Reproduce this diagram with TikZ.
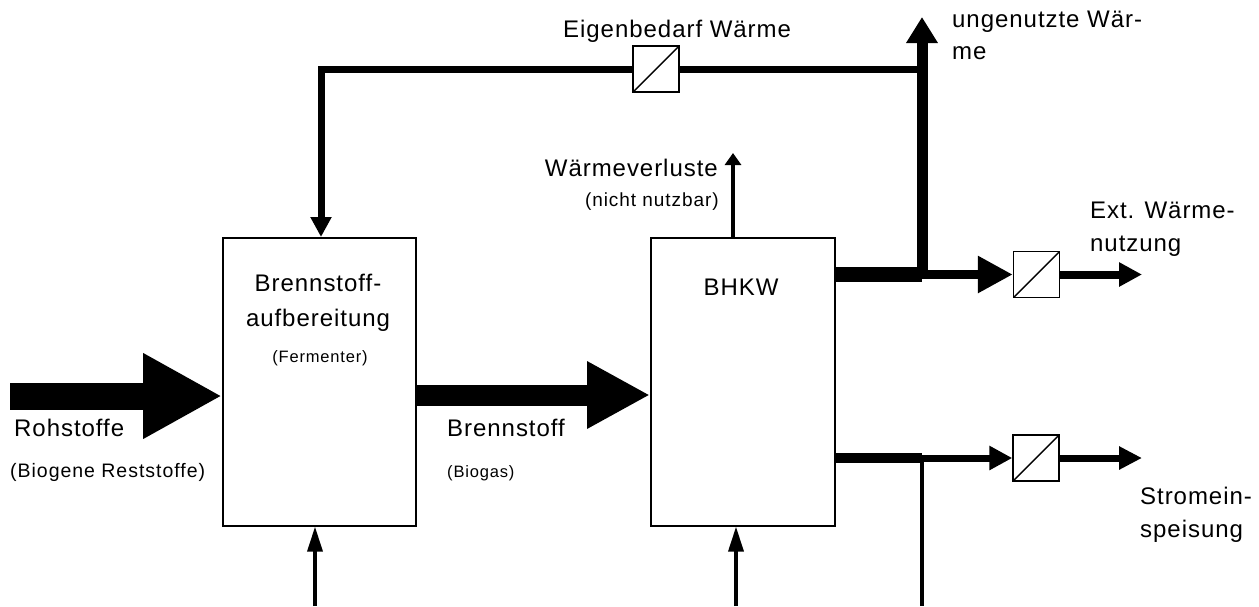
\documentclass[tikz,border=0pt]{standalone}
\usepackage{fontspec}
\setmainfont{Liberation Sans}[LetterSpace=4]
\newfontfamily\smallfam{Liberation Sans}[LetterSpace=5]
\usetikzlibrary{arrows.meta}
\tikzset{
  box/.style={draw, line width=1.6pt, anchor=north west, inner sep=0pt, minimum width=#1},
  conv/.style={draw, line width=1.4pt, minimum size=46pt, inner sep=0pt,
    path picture={\draw[line width=1.4pt] (path picture bounding box.south west) -- (path picture bounding box.north east);}},
  lbl/.style={font=\fontsize{24}{28}\selectfont, inner sep=0pt},
  slbl/.style={font=\smallfam\fontsize{#1}{20}\selectfont, inner sep=0pt},
  slbl/.default=16.5,
}
\begin{document}
\begin{tikzpicture}[x=1pt,y=-1pt,line join=miter]
\useasboundingbox (0,0) rectangle (1259,606);
% boxes
\node[box=193pt, minimum height=288pt] (b1) at (222,237) {};
\node[box=184pt, minimum height=288pt] (b2) at (650,237) {};
% converters
\node[conv] (c1) at (656,69) {};
\node[conv] (c2) at (1036.5,274.5) {};
\node[conv] (c3) at (1036,458) {};
% coordinates
\coordinate (rs) at (10,396);
\coordinate (bs) at (0,395);
\coordinate (tl) at (321,69);
\coordinate (tr) at (922,69);
\coordinate (ua) at (0,274.5);
\coordinate (uj) at (922,274.5);
\coordinate (utop) at (922,17);
\coordinate (ext) at (1142,0);
\coordinate (la) at (0,458);
\coordinate (lj) at (922,458);
\coordinate (lb) at (922,606);
\coordinate (wv) at (733,153);
\coordinate (i1) at (315,606);
\coordinate (i2) at (736,606);
% main flows
\draw[line width=27pt, -{Triangle[length=79pt 0,width=80pt 0]}] (rs) -- (rs -| b1.west);
\draw[line width=21pt, -{Triangle[length=63pt 0,width=63pt 0]}] (bs -| b1.east) -- (bs -| b2.west);
% own heat demand
\draw[line width=7pt, -{Triangle[length=20pt 0,width=20pt 0]}] (c1.west) -- (tl) -- (tl |- b1.north);
\draw[line width=7pt] (c1.east) -- (tr);
% upper output (heat)
\draw[line width=15pt] (ua -| b2.east) -- (uj);
\draw[line width=11pt, -{Triangle[length=26pt 0,width=30pt 0]}] (uj) -- (utop);
\draw[line width=9pt, -{Triangle[length=35pt 0,width=35pt 0]}] (uj) -- (c2.west);
\draw[line width=8pt, -{Triangle[length=23pt 0,width=23pt 0]}] (c2.east) -- (c2.east -| ext);
% lower output (power)
\draw[line width=10pt] (la -| b2.east) -- (lj);
\draw[line width=7pt, -{Triangle[length=23pt 0,width=23pt 0]}] (lj) -- (c3.west);
\draw[line width=7pt, -{Triangle[length=23pt 0,width=22pt 0]}] (c3.east) -- (c3.east -| ext);
\draw[line width=4pt] (lj) -- (lb);
% losses
\draw[line width=4.5pt, -{Triangle[length=12pt 0,width=16pt 0]}] (wv |- b2.north) -- (wv);
% inputs from below
\draw[line width=3.5pt, -{Triangle[length=25pt 0,width=15pt 0]}] (i1) -- (i1 |- b1.south);
\draw[line width=3.5pt, -{Triangle[length=25pt 0,width=15pt 0]}] (i2) -- (i2 |- b2.south);
% labels
\node[lbl, anchor=base] (t1a) at (318,291) {Brennstoff-};
\node[lbl, anchor=base] (t1b) at (318,326) {aufbereitung};
\node[slbl, anchor=base] (t1c) at (320,362) {(Fermenter)};
\node[lbl, anchor=base] (t2) at (741,295) {BHKW};
\node[lbl, anchor=base west] (tr1) at (14,436) {Rohstoffe};
\node[slbl=19.5, anchor=base west] (tr2) at (10,477) {(Biogene Reststoffe)};
\node[lbl, anchor=base west] (tb1) at (447,436) {Brennstoff};
\node[slbl, anchor=base west] (tb2) at (447,477) {(Biogas)};
\node[lbl, anchor=base west] (te) at (563,37) {Eigenbedarf Wärme};
\node[lbl, anchor=base west] (tu1) at (952,27) {ungenutzte Wär-};
\node[lbl, anchor=base west] (tu2) at (952,59) {me};
\node[lbl, anchor=base east] (tw1) at (718,176) {Wärmeverluste};
\node[slbl=19, anchor=base east] (tw2) at (719,206) {(nicht nutzbar)};
\node[lbl, anchor=base west] (tx1) at (1090,218) {Ext. Wärme-};
\node[lbl, anchor=base west] (tx2) at (1090,251) {nutzung};
\node[lbl, anchor=base west] (ts1) at (1140,504) {Stromein-};
\node[lbl, anchor=base west] (ts2) at (1140,537) {speisung};
\end{tikzpicture}
\end{document}
